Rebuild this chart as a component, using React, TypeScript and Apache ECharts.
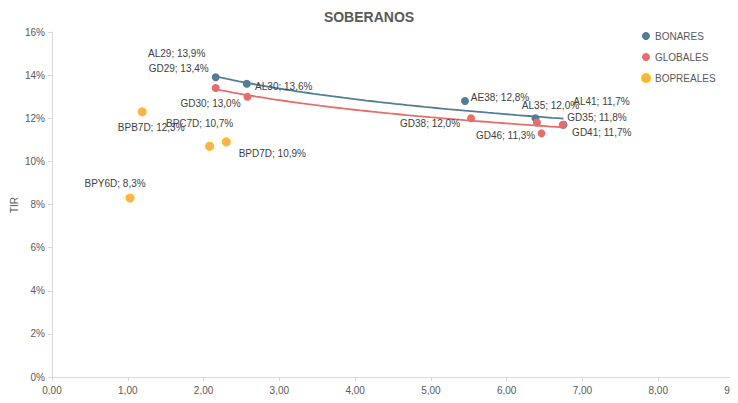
import React, { useEffect, useRef } from "react";
import * as echarts from "echarts";

const bonaresNames = ["AL29", "AL30", "AE38", "AL35", "AL41"];
const bonaresDuration = [2.16, 2.57, 5.45, 6.38, 6.75];
const bonaresTIR = [13.9, 13.6, 12.8, 12.0, 11.7];

const globalesNames = ["GD29", "GD30", "GD38", "GD35", "GD46", "GD41"];
const globalesDuration = [2.16, 2.58, 5.53, 6.4, 6.46, 6.74];
const globalesTIR = [13.4, 13.0, 12.0, 11.8, 11.3, 11.7];

const boprealesNames = ["BPB7D", "BPC7D", "BPD7D", "BPY6D"];
const boprealesDuration = [1.19, 2.08, 2.3, 1.03];
const boprealesTIR = [12.3, 10.7, 10.9, 8.3];

const seriesNames = ["BONARES", "GLOBALES", "BOPREALES"];
const yAxisTitle = "TIR";

// label placement (style only)
const labelOffsets: Record<string, [number, number]> = {
  AL29: [-39, -24],
  GD29: [-37, -20],
  AL30: [37, 3],
  GD30: [-37, 7],
  AE38: [35, -4],
  GD38: [-41, 5],
  AL35: [15, -13],
  AL41: [38, -23],
  GD35: [60, -5],
  GD41: [39, 8],
  GD46: [-36, 2],
  BPB7D: [9, 16],
  BPC7D: [-10, -23],
  BPD7D: [46, 12],
  BPY6D: [-15, -15],
};

const BLUE = "#527D95";
const RED = "#E56D6B";
const ORANGE = "#F8AE68";
const ORANGE_BORDER = "#FFC000";

function fmtNum(v: number, d: number) {
  return v.toFixed(d).replace(".", ",");
}

function buildPoints(names: string[], xs: number[], ys: number[]) {
  return names.map((n, i) => ({ name: n, value: [xs[i], ys[i]] }));
}

// logarithmic trendline (least squares), as Excel draws it
function logTrend(xs: number[], ys: number[], steps = 60) {
  const lx = xs.map((x) => Math.log(x));
  const n = xs.length;
  const mx = lx.reduce((a, b) => a + b, 0) / n;
  const my = ys.reduce((a, b) => a + b, 0) / n;
  let sxy = 0;
  let sxx = 0;
  for (let i = 0; i < n; i++) {
    sxy += (lx[i] - mx) * (ys[i] - my);
    sxx += (lx[i] - mx) * (lx[i] - mx);
  }
  const b = sxy / sxx;
  const a = my - b * mx;
  const x0 = Math.min(...xs);
  const x1 = Math.max(...xs);
  const pts: number[][] = [];
  for (let i = 0; i <= steps; i++) {
    const x = x0 + ((x1 - x0) * i) / steps;
    pts.push([x, a + b * Math.log(x)]);
  }
  return pts;
}

export default function App() {
  const ref = useRef<HTMLDivElement>(null);
  useEffect(() => {
    if (!ref.current) return;
    const chart = echarts.init(ref.current, undefined, { renderer: "svg" });
    const font = "'Liberation Sans', Arial, sans-serif";
    const scatter = (name: string, names: string[], data: any[], color: string, border?: string) => ({
      name,
      type: "scatter",
      data,
      symbol: "circle",
      symbolSize: 8,
      itemStyle: {
        color,
        borderColor: border || color,
        borderWidth: border ? 1.2 : 0,
        opacity: 1,
      },
      label: {
        show: true,
        position: "inside",
        align: "center",
        verticalAlign: "middle",
        color: "#404040",
        fontSize: 10,
        fontFamily: font,
        formatter: (p: any) => `${p.name}; ${fmtNum(p.value[1], 1)}%`,
      },
      labelLayout: (params: any) => {
        const off = labelOffsets[names[params.dataIndex]] || [0, 0];
        return { dx: off[0], dy: off[1], hideOverlap: false };
      },
      z: 3,
    });
    const trend = (data: number[][], color: string) => ({
      type: "line",
      data,
      symbol: "none",
      silent: true,
      lineStyle: { color, width: 1.8 },
      z: 2,
    });
    chart.setOption({
      animation: false,
      backgroundColor: "#ffffff",
      title: {
        text: "SOBERANOS",
        left: "center",
        top: 5,
        textStyle: { fontSize: 14, fontWeight: "bold", color: "#595959", fontFamily: font },
      },
      legend: {
        data: seriesNames,
        orient: "vertical",
        left: 636,
        top: 26,
        icon: "circle",
        itemWidth: 8,
        itemHeight: 8,
        itemGap: 11,
        textStyle: { fontSize: 10, color: "#595959", fontFamily: font },
      },
      graphic: [
        {
          type: "text",
          x: 14,
          y: 205,
          rotation: Math.PI / 2,
          style: {
            text: yAxisTitle,
            fill: "#595959",
            fontSize: 10,
            fontFamily: font,
            align: "center",
            verticalAlign: "middle",
          },
        },
      ],
      grid: { left: 52, right: 4, top: 32, bottom: 26, containLabel: false, outerBoundsMode: "none" },
      xAxis: {
        type: "value",
        min: 0,
        max: 9,
        interval: 1,
        axisLine: { show: true, lineStyle: { color: "#D9D9D9" } },
        axisTick: { show: true, length: 4, lineStyle: { color: "#D9D9D9" } },
        splitLine: { show: false },
        axisLabel: {
          color: "#595959",
          fontSize: 10,
          fontFamily: font,
          margin: 8,
          formatter: (v: number) => fmtNum(v, 2),
        },
      },
      yAxis: {
        type: "value",
        min: 0,
        max: 16,
        interval: 2,
        axisLine: { show: true, lineStyle: { color: "#D9D9D9" } },
        axisTick: { show: true, length: 4, lineStyle: { color: "#D9D9D9" } },
        splitLine: { show: false },
        axisLabel: {
          color: "#595959",
          fontSize: 10,
          fontFamily: font,
          margin: 7,
          formatter: (v: number) => `${v}%`,
        },
      },
      series: [
        trend(logTrend(bonaresDuration, bonaresTIR), BLUE),
        trend(logTrend(globalesDuration, globalesTIR), RED),
        scatter("BONARES", bonaresNames, buildPoints(bonaresNames, bonaresDuration, bonaresTIR), BLUE),
        scatter("GLOBALES", globalesNames, buildPoints(globalesNames, globalesDuration, globalesTIR), RED),
        scatter(
          "BOPREALES",
          boprealesNames,
          buildPoints(boprealesNames, boprealesDuration, boprealesTIR),
          ORANGE,
          ORANGE_BORDER
        ),
      ],
    });
    return () => chart.dispose();
  }, []);
  return <div ref={ref} style={{ width: 738, height: 403, margin: -8 }} />;
}
